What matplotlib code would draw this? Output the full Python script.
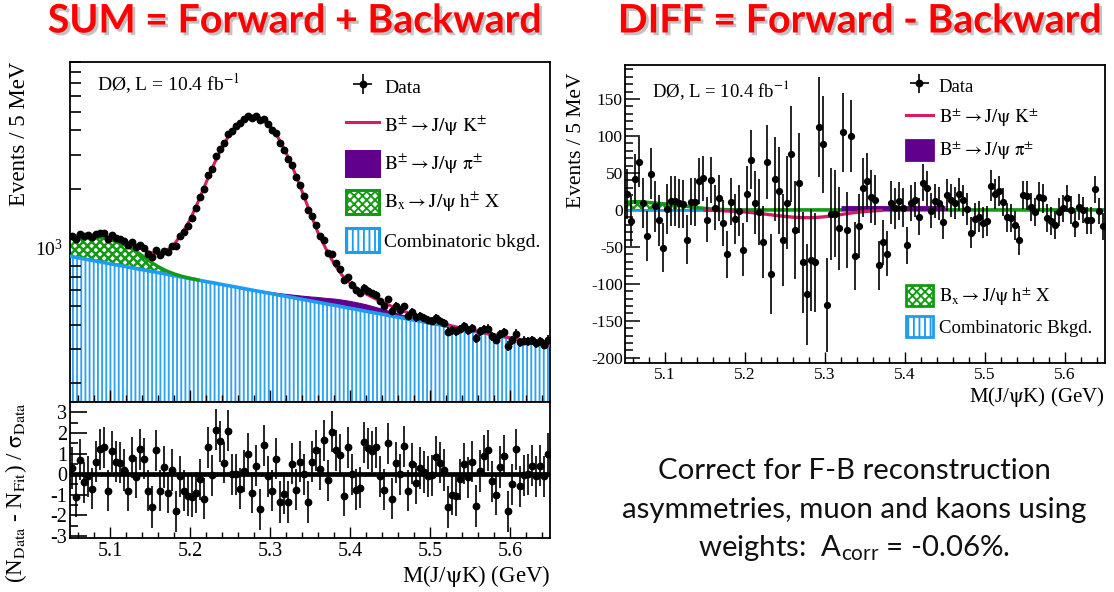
import numpy as np
import matplotlib
matplotlib.use('Agg')
import matplotlib.pyplot as plt
import matplotlib.ticker as mticker
import matplotlib.patheffects as pe
from matplotlib.patches import Patch
from matplotlib.lines import Line2D

plt.rcParams['font.family'] = 'Liberation Serif'
plt.rcParams['mathtext.fontset'] = 'stix'
plt.rcParams['mathtext.rm'] = 'Lato'
plt.rcParams['axes.unicode_minus'] = False
plt.rcParams['hatch.linewidth'] = 1.35

# --- fit components, sampled every 10 MeV from 5.05 to 5.65 GeV ---
grid = np.round(np.linspace(5.05, 5.65, 61), 3)
bkg = [900, 884, 869, 854, 839, 824, 810, 796, 782, 768, 755, 742, 729, 716, 703, 691,
       679, 667, 656, 644, 633, 622, 611, 600, 590, 580, 569, 560, 550, 540, 531, 522,
       512, 504, 495, 486, 478, 469, 461, 453, 445, 437, 430, 422, 415, 408, 401, 394,
       387, 380, 373, 367, 361, 354, 348, 342, 336, 330, 324, 319, 313]
bx_part = [230, 255, 272, 282, 282, 272, 252, 225, 188, 140, 92, 55, 30, 15, 7, 3, 1] + [0] * 44
pi_part = [0] * 14 + [1, 1, 1, 2, 2, 3, 4, 5, 6, 7, 8, 10, 13, 16, 20, 24, 28, 33, 37, 41,
                     43, 44, 42, 40, 35, 30, 24, 19, 14, 10, 7, 5, 3, 2, 1, 1] + [0] * 11
k_signal = [8, 10, 14, 17, 22, 28, 34, 44, 55, 71, 95, 132, 197, 303, 472, 690, 1032, 1481,
            2025, 2624, 3212, 3708, 4033, 4133, 3985, 3620, 3099, 2502, 1910, 1383, 956,
            634, 432, 278, 182, 124, 89, 67, 52, 41, 33, 26, 21, 17, 13, 10, 7, 6, 4, 3, 2,
            2, 1, 1, 1] + [0] * 6

# DIFF fit components
diff_bx = [10, 11, 11, 10, 9, 8, 7, 6, 4.5, 3, 2, 1, 0.5, 0.2] + [0] * 47
diff_fit = [0] * 10 + [-0.3, -0.6, -1, -1.5, -2, -2.8, -3.8, -5, -6.3, -7.6, -8.8, -9.8,
                       -10.4, -10.5, -10.1, -9.2, -7.8, -6.2, -4.6, -3.2, -2.1, -1.3, -0.7] + [0] * 28
diff_pi = [None] * 27 + [3] * 14 + [None] * 20

# --- data, 5 MeV bins ---
centers = np.round(5.0525 + 0.005 * np.arange(120), 4)
sum_counts = [1151, 1109, 1174, 1140, 1152, 1130, 1171, 1187, 1182, 1102,
              1154, 1123, 1106, 1080, 1029, 1061, 1009, 1029, 991, 926,
              890, 967, 912, 960, 947, 1020, 1012, 1143, 1205, 1296,
              1425, 1595, 1811, 1987, 2345, 2547, 2944, 3213, 3448, 3833,
              3970, 4214, 4367, 4581, 4740, 4656, 4728, 4506, 4584, 4296,
              4027, 3859, 3451, 3174, 2855, 2656, 2311, 2107, 1839, 1565,
              1457, 1311, 1145, 1086, 933, 922, 829, 772, 676, 704,
              643, 601, 585, 621, 599, 581, 572, 528, 502, 542,
              470, 499, 478, 498, 444, 464, 436, 445, 434, 424,
              419, 431, 420, 408, 368, 375, 369, 381, 392, 374,
              385, 340, 370, 381, 382, 350, 335, 358, 365, 312,
              332, 360, 324, 331, 329, 333, 321, 328, 316, 334]
pulls = [0.3, -1.1, 0.7, -0.4, -0.1, -0.7, 0.6, 1.2, 1.3, -0.8,
         1.1, 0.6, 0.55, 0.2, -0.8, 0.8, -0.15, 1.2, 0.75, -0.8,
         -1.6, 1.15, -0.8, 0.35, -0.9, 0.2, -1.8, -0.1, -0.8, -1.05,
         -1.1, -0.9, -0.25, -1.2, 1.3, -0.05, 2.15, 1.6, 0.55, 2.1,
         0.0, 0.0, -0.7, 0.15, 1.0, -0.9, 0.4, -1.7, 1.4, -0.1,
         -0.8, 0.75, -1.35, -0.95, -1.35, 0.5, -0.75, 0.6, 0.0, -1.35,
         0.6, 1.15, 0.25, 1.65, -0.3, 2.05, 1.15, 0.95, -1.05, 1.3,
         0.0, -0.75, -0.65, 1.55, 1.25, 1.1, 1.3, -0.1, -0.75, 1.5,
         -1.2, 0.55, 0.0, 1.35, -0.8, 0.5, -0.45, 0.3, 0.1, -0.1,
         -0.05, 0.85, 0.55, 0.2, -1.6, -1.0, -1.05, -0.25, 0.5, -0.15,
         0.6, -1.55, 0.15, 0.9, 1.15, -0.35, -1.0, 0.35, 0.9, -1.8,
         -0.5, 1.2, -0.6, -0.05, 0.0, 0.4, -0.1, 0.4, -0.1, 1.0]
diff_counts = [22, -15, 42, 65, 9, -35, 49, 5, -14, -51,
               1, 12, 12, 9, 8, -40, 11, 11, 39, 43,
               -13, 41, 3, 16, -18, -60, 11, -12, -1, -54,
               22, 68, 10, -3, -43, 65, -87, 42, 26, -41,
               10, 75, -27, 36, -71, -114, -68, -71, 112, 89,
               -129, -6, -5, -25, 105, -27, 100, -62, -22, 30,
               39, 18, 13, -75, -44, -59, 10, 2, 12, 3,
               -48, 9, 14, -9, 37, 29, -1, 12, 9, -16,
               20, 13, 9, 21, 13, 1, -31, -12, -9, -17,
               -15, 33, 22, 26, 11, -10, -11, -21, -41, 20,
               19, 4, -3, 18, 16, -11, -15, -21, -3, 2,
               16, 0, -19, 4, 0, -14, -14, 28, -1, -22]

x_ticks = [5.1, 5.2, 5.3, 5.4, 5.5, 5.6]

# colours
MAG = '#d81b63'
PURP = '#62008e'
GRN = '#129a12'
BLUE = '#1f9cf0'
BLUE_H = '#2ea2f3'

bkg = np.array(bkg, float)
lvl_bx = bkg + np.array(bx_part, float)
lvl_pi = lvl_bx + np.array(pi_part, float)
total = lvl_pi + np.array(k_signal, float)
sum_counts = np.array(sum_counts, float)
sig = np.sqrt(sum_counts)
diff_pi = np.array(diff_pi, dtype=float)

W, H = 1114, 592


def rect(x0, y0, x1, y1):
    return [x0 / W, 1 - y1 / H, (x1 - x0) / W, (y1 - y0) / H]


def legend_handles(lw):
    return [
        Line2D([], [], color=MAG, lw=2.2),
        Patch(facecolor=PURP, edgecolor=PURP, lw=lw),
        Patch(facecolor='white', edgecolor=GRN, hatch='xxxx', lw=lw),
        Patch(facecolor='white', edgecolor=BLUE, hatch='|||', lw=lw),
    ]


lbl_k = r'$\mathrm{B^{\pm}\rightarrow J/\psi\ K^{\pm}}$'
lbl_pi = r'$\mathrm{B^{\pm}\rightarrow J/\psi\ \pi^{\pm}}$'
lbl_bx = r'$\mathrm{B_{x}\rightarrow J/\psi\ h^{\pm}\ X}$'
d0_txt = r'DØ, L = 10.4 fb$^{\mathrm{-1}}$'

fig = plt.figure(figsize=(W / 100, H / 100), dpi=100)

# ================= SUM : main panel =================
ax1 = fig.add_axes(rect(70, 62, 550, 402))
ax1.set_yscale('log')
ax1.set_xlim(5.05, 5.65)
ax1.set_ylim(160, 9000)

ax1.fill_between(grid, 1, bkg, facecolor='white', edgecolor=BLUE_H, hatch='||||', linewidth=0, zorder=1)
ax1.plot(grid, bkg, color=BLUE, lw=2.6, zorder=3)
has_bx = np.array(bx_part) > 0
with plt.rc_context({'hatch.linewidth': 1.8}):
    ax1.fill_between(grid[has_bx], bkg[has_bx], lvl_bx[has_bx], facecolor='white',
                     edgecolor=GRN, hatch='xxxx', linewidth=0, zorder=2)
ax1.plot(grid[has_bx], lvl_bx[has_bx], color=GRN, lw=2.4, zorder=3)
ax1.fill_between(grid, lvl_bx, lvl_pi, facecolor=PURP, edgecolor=PURP, linewidth=0.8, zorder=2)
ax1.plot(grid, total, color=MAG, lw=2.2, zorder=4)
ax1.errorbar(centers, sum_counts, yerr=sig, fmt='o', ms=4.6, color='k', elinewidth=1.2,
             capsize=0, zorder=5)
h_data = ax1.errorbar([np.nan], [np.nan], xerr=[1], yerr=[1], fmt='o', ms=4.6, color='k',
                      elinewidth=1.2, capsize=0)

ax1.xaxis.set_major_locator(mticker.MultipleLocator(0.1))
ax1.xaxis.set_minor_locator(mticker.MultipleLocator(0.02))
ax1.yaxis.set_major_locator(mticker.LogLocator(base=10, subs=(1.0,)))
ax1.yaxis.set_minor_locator(mticker.LogLocator(base=10, subs=np.arange(2, 10)))
ax1.yaxis.set_minor_formatter(mticker.NullFormatter())
ax1.tick_params(which='both', direction='in', top=False, right=False, labelbottom=False)
ax1.tick_params(axis='y', which='major', length=15, width=1.2, labelsize=14, pad=5)
ax1.tick_params(axis='y', which='minor', length=8, width=1.2)
ax1.tick_params(axis='x', which='major', length=9, width=1.0)
ax1.tick_params(axis='x', which='minor', length=5, width=1.0)
for s in ax1.spines.values():
    s.set_linewidth(1.3)
ax1.set_ylabel('Events / 5 MeV', fontsize=16.5, loc='top')
ax1.yaxis.set_label_coords(-0.083, 1.0)
ax1.text(0.056, 0.935, d0_txt, transform=ax1.transAxes, fontsize=14, va='center')

hl = [h_data] + legend_handles(2.2)
ax1.legend(hl, ['Data', lbl_k, lbl_pi, lbl_bx, 'Combinatoric bkgd.'],
           loc='upper left', bbox_to_anchor=(0.575, 0.962), frameon=False, fontsize=14,
           borderaxespad=0, borderpad=0, handlelength=1.7, handleheight=1.55,
           handletextpad=0.28, labelspacing=0.7)

# ================= SUM : pull panel =================
ax2 = fig.add_axes(rect(70, 402, 550, 538))
ax2.set_xlim(5.05, 5.65)
ax2.set_ylim(-3.1, 3.5)
ax2.axhline(0, color='k', lw=3.4, zorder=2)
ax2.errorbar(centers, pulls, yerr=np.ones(len(pulls)), fmt='o', ms=4.6, color='k',
             elinewidth=1.2, capsize=0, zorder=3)
ax2.set_xticks(x_ticks)
ax2.xaxis.set_minor_locator(mticker.MultipleLocator(0.02))
ax2.yaxis.set_major_locator(mticker.MultipleLocator(1))
ax2.yaxis.set_minor_locator(mticker.MultipleLocator(0.5))
ax2.yaxis.set_major_formatter(mticker.FormatStrFormatter('%d'))
ax2.tick_params(which='both', direction='in', top=False, right=False, labelsize=14.5)
ax2.tick_params(axis='y', which='major', length=12, width=1.2, pad=2)
ax2.tick_params(axis='y', which='minor', length=6, width=1.2)
ax2.tick_params(axis='x', which='major', length=8, width=1.0, pad=3)
ax2.tick_params(axis='x', which='minor', length=4, width=1.0)
for s in ax2.spines.values():
    s.set_linewidth(1.3)
ax2.set_xlabel(r'M(J/$\mathrm{\psi}$K) (GeV)', fontsize=16.5, loc='right', labelpad=1)
ax2.set_ylabel(r'(N$_{\mathrm{Data}}$ - N$_{\mathrm{Fit}}$) / $\mathrm{\sigma_{Data}}$',
               fontsize=16.5, loc='top')
ax2.yaxis.set_label_coords(-0.085, 1.0)

# ================= DIFF panel =================
ax3 = fig.add_axes(rect(625, 65, 1105, 363))
ax3.set_xlim(5.05, 5.65)
ax3.set_ylim(-207, 196)
has_dbx = np.array(diff_bx) > 0
ax3.plot(grid[:11], np.zeros(11), color=BLUE, lw=2.0, zorder=2)
with plt.rc_context({'hatch.linewidth': 1.6}):
    ax3.fill_between(grid[has_dbx], 0, np.array(diff_bx)[has_dbx], facecolor='white',
                     edgecolor=GRN, hatch='xxxx', linewidth=0, zorder=1)
ax3.plot(grid, diff_bx, color=GRN, lw=2.6, zorder=2)
ax3.plot(grid, diff_pi, color=PURP, lw=3.5, zorder=3, solid_capstyle='butt')
mag_on = np.array(diff_fit) != 0
ax3.plot(grid[mag_on], np.array(diff_fit)[mag_on], color=MAG, lw=2.4, zorder=3)
ax3.errorbar(centers, diff_counts, yerr=sig, fmt='o', ms=4.2, color='k', elinewidth=1.2,
             capsize=0, zorder=5)
ax3.set_xticks(x_ticks)
ax3.xaxis.set_minor_locator(mticker.MultipleLocator(0.02))
ax3.yaxis.set_major_locator(mticker.MultipleLocator(50))
ax3.yaxis.set_minor_locator(mticker.MultipleLocator(10))
ax3.tick_params(which='both', direction='in', top=False, right=False, labelsize=12.5)
ax3.tick_params(axis='y', which='major', length=11, width=1.1, pad=1.5)
ax3.tick_params(axis='y', which='minor', length=6, width=1.1)
ax3.tick_params(axis='x', which='major', length=8, width=1.0, pad=3)
ax3.tick_params(axis='x', which='minor', length=4, width=1.0)
for s in ax3.spines.values():
    s.set_linewidth(1.3)
ax3.set_ylabel('Events / 5 MeV', fontsize=15.5, loc='top')
ax3.yaxis.set_label_coords(-0.081, 0.975)
ax3.set_xlabel(r'M(J/$\mathrm{\psi}$K) (GeV)', fontsize=15, loc='right', labelpad=1)
ax3.text(0.056, 0.916, d0_txt, transform=ax3.transAxes, fontsize=13.5, va='center')

hr = legend_handles(2.0)
leg_top = ax3.legend([h_data, hr[0], hr[1]], ['Data', lbl_k, lbl_pi],
                     loc='upper left', bbox_to_anchor=(0.585, 0.966), frameon=False,
                     fontsize=13.5, borderaxespad=0, borderpad=0, handlelength=1.45,
                     handleheight=1.3, handletextpad=0.3, labelspacing=0.55)
ax3.add_artist(leg_top)
ax3.legend([hr[2], hr[3]], [lbl_bx, 'Combinatoric Bkgd.'],
           loc='upper left', bbox_to_anchor=(0.585, 0.262), frameon=False,
           fontsize=13.5, borderaxespad=0, borderpad=0, handlelength=1.45,
           handleheight=1.3, handletextpad=0.3, labelspacing=0.45)

# ================= titles and note =================
shadow = [pe.SimplePatchShadow(offset=(2, -2), shadow_rgbFace='#888888', alpha=0.5), pe.Normal()]
fig.text(294 / W, 1 - 21 / H, 'SUM = Forward + Backward', ha='center', va='center',
         color='#ff0000', fontweight='bold', family='Lato', fontsize=28.3, path_effects=shadow)
fig.text(859 / W, 1 - 21 / H, 'DIFF = Forward - Backward', ha='center', va='center',
         color='#ff0000', fontweight='bold', family='Lato', fontsize=28.3, path_effects=shadow)

note_lines = ['Correct for F-B reconstruction',
              'asymmetries, muon and kaons using',
              r'weights:  A$_{\mathrm{corr}}$ = -0.06%.']
for line, yy in zip(note_lines, [471, 510, 548]):
    fig.text(854 / W, 1 - yy / H, line, ha='center', va='center', family='Lato',
             fontsize=21.2, color='#111111', math_fontfamily='custom')

fig.savefig('out.png', dpi=100)
